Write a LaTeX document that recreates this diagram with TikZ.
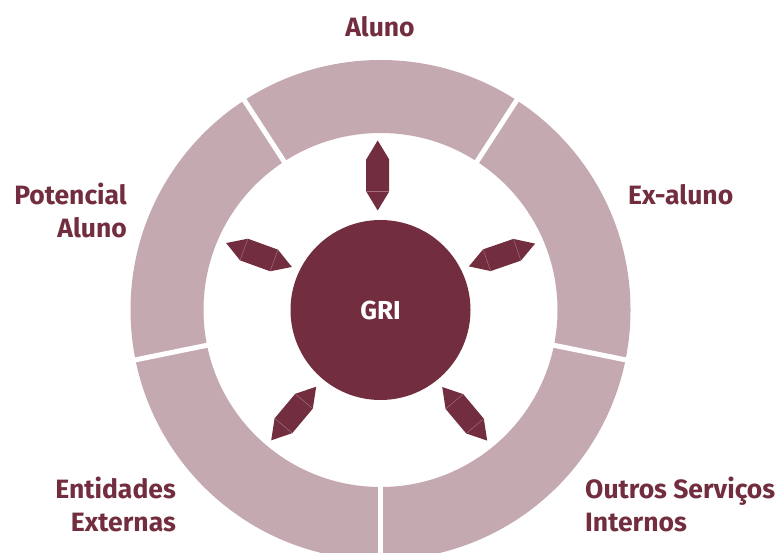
\documentclass[tikz,border=0pt]{standalone}
\usepackage{fontspec}
\setmainfont{Fira Sans}
\usetikzlibrary{calc}
\definecolor{griwine}{HTML}{722D3F}
\definecolor{griring}{HTML}{C5A9B0}
\definecolor{griseam}{HTML}{A46E7C}
\tikzset{
  label text/.style={text=griwine, font=\bfseries\fontsize{26.5}{33}\selectfont, inner sep=0pt},
  ring gap/.style={white, line width=5pt},
  link arrow/.style={fill=griwine},
  seam/.style={draw=griseam, line width=0.5pt},
}
\begin{document}
\begin{tikzpicture}[x=1pt,y=1pt]
    \useasboundingbox (0,0) rectangle (781,552);
    \clip (0,0) rectangle (781,552);
    \coordinate (c) at (380.5,242);
    % ring of stakeholders
    \fill[griring, even odd rule] (c) circle (250pt) (c) circle (177pt);
    \foreach \a in {57,123,191.5,270,348.5}
        \draw[ring gap] ($(c)+(\a:174pt)$) -- ($(c)+(\a:253pt)$);
    % centre
    \node[circle, fill=griwine, minimum size=180pt, inner sep=0pt, text=white,
          font=\bfseries\fontsize{26}{30}\selectfont] (gri) at (c) {GRI};
    % double arrows
    \foreach \x/\y/\r/\s in {377.7/376.5/90/0, 259/297/160/1, 502/297/19/1,
                             293.7/138.5/230/1, 464.7/138.2/310/1} {
        \begin{scope}[shift={(\x,\y)}, rotate=\r]
            \fill[link arrow] (35,0) -- (16,11.5) -- (-16,11.5) -- (-35,0)
                -- (-16,-11.5) -- (16,-11.5) -- cycle;
            \draw[seam] (-16,11.5) -- (-16,-11.5);
            \ifnum\s=1 \draw[seam] (16,11.5) -- (16,-11.5); \fi
        \end{scope}
    }
    % labels (base anchor sits on the last line)
    \node[label text, anchor=base] (aluno) at (380,515.3) {Aluno};
    \node[label text, anchor=base west] (exaluno) at (628,347.7) {Ex-aluno};
    \node[label text, align=right, anchor=base east] (potencial) at (127,314) {Potencial\\Aluno};
    \node[label text, align=right, anchor=base east] (entidades) at (176,20.3) {Entidades\\Externas};
    \node[label text, align=left, anchor=base west] (outros) at (585,20.3) {Outros Serviços\\Internos};
\end{tikzpicture}
\end{document}
